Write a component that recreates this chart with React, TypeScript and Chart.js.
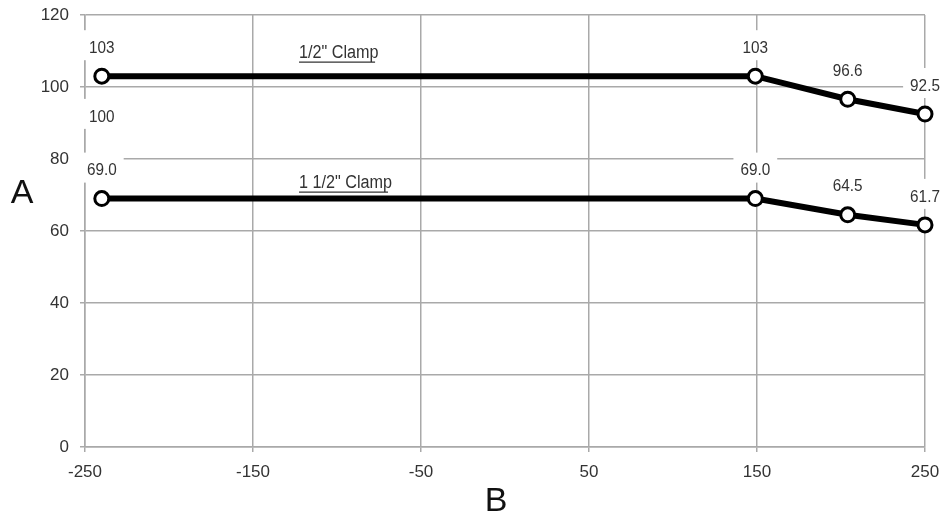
import React, { useEffect, useRef } from "react";
import { Chart, registerables } from "chart.js";

Chart.register(...registerables);

// ---- data ----
const xValues = [-240, 149, 204, 250];
const halfInchValues = [103, 103, 96.6, 92.5];
const oneHalfInchValues = [69.0, 69.0, 64.5, 61.7];
const halfInchLabels = ["103", "103", "96.6", "92.5"];
const oneHalfInchLabels = ["69.0", "69.0", "64.5", "61.7"];
const seriesNames = ['1/2" Clamp', '1 1/2" Clamp'];
const seriesNameX = [-122.6, -122.6];
const seriesNameY = [109.4, 73.3];
const strayLabelText = "100";
const strayLabelX = -240;
const strayLabelY = 91.7;
const xTicks = [-250, -150, -50, 50, 150, 250];
const yTicks = [0, 20, 40, 60, 80, 100, 120];
const xTitle = "B";
const yTitle = "A";

const FONT = '"Liberation Sans", Arial, sans-serif';
const GRID = "#a9a9a9";
const TEXT = "#333333";
const SQUEEZE = 0.9;

function drawNarrowText(ctx: CanvasRenderingContext2D, text: string, cx: number, cy: number, align: "center" | "left") {
  ctx.save();
  ctx.translate(cx, cy);
  ctx.scale(SQUEEZE, 1);
  ctx.textAlign = align;
  ctx.textBaseline = "middle";
  ctx.fillText(text, 0, 0);
  ctx.restore();
}

function drawBoxedText(ctx: CanvasRenderingContext2D, text: string, cx: number, cy: number) {
  ctx.font = `17px ${FONT}`;
  const w = ctx.measureText(text).width * SQUEEZE + 14;
  const h = 30;
  ctx.fillStyle = "#ffffff";
  ctx.fillRect(cx - w / 2, cy - h / 2 - 3, w, h);
  ctx.fillStyle = TEXT;
  drawNarrowText(ctx, text, cx, cy, "center");
}

const labelPlugin = {
  id: "labelPlugin",
  beforeDatasetsDraw(chart: any) {
    const ctx: CanvasRenderingContext2D = chart.ctx;
    const xs = chart.scales.x;
    const ys = chart.scales.y;
    ctx.save();
    const allLabels = [halfInchLabels, oneHalfInchLabels];
    chart.data.datasets.forEach((_: any, di: number) => {
      const meta = chart.getDatasetMeta(di);
      meta.data.forEach((pt: any, i: number) => {
        drawBoxedText(ctx, allLabels[di][i], pt.x, pt.y - 28);
      });
    });
    drawBoxedText(ctx, strayLabelText, xs.getPixelForValue(strayLabelX), ys.getPixelForValue(strayLabelY));

    // series names (underlined)
    ctx.font = `18px ${FONT}`;
    ctx.fillStyle = TEXT;
    ctx.strokeStyle = TEXT;
    ctx.lineWidth = 1.3;
    seriesNames.forEach((name, i) => {
      const px = xs.getPixelForValue(seriesNameX[i]);
      const py = ys.getPixelForValue(seriesNameY[i]);
      drawNarrowText(ctx, name, px, py, "left");
      const w = ctx.measureText(name).width * 0.86;
      ctx.beginPath();
      ctx.moveTo(px, py + 9);
      ctx.lineTo(px + w, py + 9);
      ctx.stroke();
    });
    ctx.restore();
  },
  afterDraw(chart: any) {
    const ctx: CanvasRenderingContext2D = chart.ctx;
    const area = chart.chartArea;
    ctx.save();
    ctx.font = `34px ${FONT}`;
    ctx.fillStyle = "#111111";
    ctx.textAlign = "center";
    ctx.textBaseline = "middle";
    ctx.fillText(yTitle, 22, (area.top + area.bottom) / 2 - 37);
    ctx.fillText(xTitle, (area.left + area.right) / 2 - 9, area.bottom + 55);
    ctx.restore();
  },
};

function zeroPadding(s: any) {
  s.paddingTop = 0;
  s.paddingBottom = 0;
  s.paddingLeft = 0;
  s.paddingRight = 0;
}

export default function App() {
  const ref = useRef<HTMLCanvasElement | null>(null);
  useEffect(() => {
    if (!ref.current) return;
    const lineStyle = {
      borderColor: "#000000",
      borderWidth: 6,
      pointRadius: 7,
      pointBorderWidth: 3,
      pointBackgroundColor: "#ffffff",
      pointBorderColor: "#000000",
      tension: 0,
      clip: false as any,
    };
    const chart = new Chart(ref.current, {
      type: "scatter",
      data: {
        datasets: [
          {
            label: seriesNames[0],
            data: xValues.map((x, i) => ({ x, y: halfInchValues[i] })),
            showLine: true,
            ...lineStyle,
          },
          {
            label: seriesNames[1],
            data: xValues.map((x, i) => ({ x, y: oneHalfInchValues[i] })),
            showLine: true,
            ...lineStyle,
          },
        ],
      },
      options: {
        responsive: false,
        maintainAspectRatio: false,
        animation: false,
        layout: { padding: { top: 15, right: 18, left: 0, bottom: 0 } },
        plugins: { legend: { display: false }, tooltip: { enabled: false } },
        scales: {
          x: {
            type: "linear",
            min: -250,
            max: 250,
            afterBuildTicks: (s: any) => {
              s.ticks = xTicks.map((v) => ({ value: v }));
            },
            afterFit: (s: any) => {
              s.height = 74;
              zeroPadding(s);
            },
            grid: { color: GRID, lineWidth: 1.5, tickLength: 5, drawTicks: true },
            border: { display: true, color: GRID, width: 1.5 },
            ticks: {
              padding: 10,
              color: TEXT,
              font: { family: FONT, size: 17 },
              maxRotation: 0,
              autoSkip: false,
            },
          },
          y: {
            type: "linear",
            min: 0,
            max: 120,
            afterBuildTicks: (s: any) => {
              s.ticks = yTicks.map((v) => ({ value: v }));
            },
            afterFit: (s: any) => {
              s.width = 85;
              zeroPadding(s);
            },
            grid: { color: GRID, lineWidth: 1.5, tickLength: 5, drawTicks: true },
            border: { display: true, color: GRID, width: 1.5 },
            ticks: {
              padding: 11,
              color: TEXT,
              font: { family: FONT, size: 17 },
              autoSkip: false,
            },
          },
        },
      },
      plugins: [labelPlugin],
    });
    return () => chart.destroy();
  }, []);
  return (
    <div style={{ position: "absolute", left: 0, top: 0, width: 943, height: 521, background: "#ffffff" }}>
      <canvas ref={ref} width={943} height={521} />
    </div>
  );
}
